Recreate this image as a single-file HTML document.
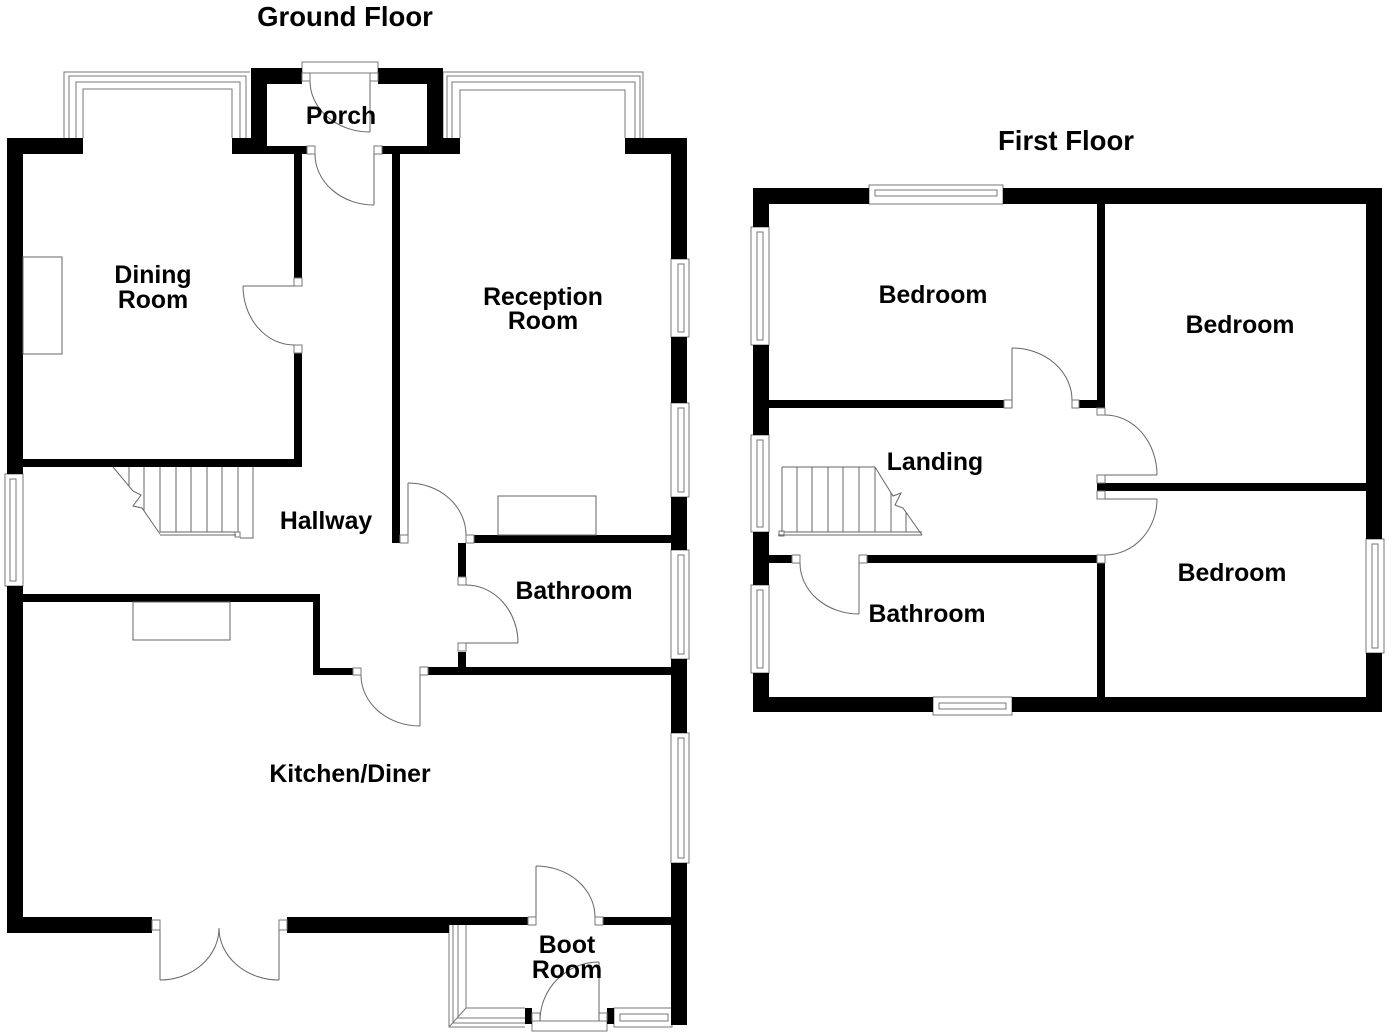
<!DOCTYPE html>
<html>
<head>
<meta charset="utf-8">
<style>
  html,body{margin:0;padding:0;background:#fff;}
  svg{display:block;}
  text{font-family:"Liberation Sans",Arial,sans-serif;font-weight:bold;fill:#000;}
</style>
</head>
<body>
<svg width="1392" height="1032" viewBox="0 0 1392 1032" xmlns="http://www.w3.org/2000/svg">
<rect width="1392" height="1032" fill="#fff"/>

<!-- ============ GROUND FLOOR ============ -->
<g fill="#fff" stroke="#777" stroke-width="1">
  <rect x="5" y="474" width="18" height="112"/>
  <rect x="10" y="479" width="6" height="102"/>
  <rect x="671" y="259" width="18" height="78"/>
  <rect x="678" y="264" width="6" height="68"/>
  <rect x="671" y="403" width="18" height="94"/>
  <rect x="678" y="408" width="6" height="84"/>
  <rect x="671" y="550" width="18" height="109"/>
  <rect x="678" y="555" width="6" height="99"/>
  <rect x="671" y="733" width="18" height="130"/>
  <rect x="678" y="738" width="6" height="120"/>
  <rect x="614" y="1008" width="58" height="19"/>
  <rect x="620" y="1014" width="48" height="7"/>
  <rect x="302" y="62" width="76" height="11"/>
  <rect x="532" y="1021" width="75" height="10"/>
</g>

<g fill="none" stroke="#777" stroke-width="1">
  <path d="M64,138 V72 H250"/>
  <path d="M69,138 V76 H246 V138"/>
  <path d="M76,138 V82 H240 V138"/>
  <path d="M83,138 V89 H232 V138"/>
  <path d="M443,138 V72 H643 V138"/>
  <path d="M447,138 V76 H640 V138"/>
  <path d="M452,138 V82 H635 V138"/>
  <path d="M460,138 V90 H625 V138"/>
  <path d="M449,925 V1027 H525"/>
  <path d="M453,925 V1023 H525"/>
  <path d="M458,925 V1018 H525"/>
  <path d="M466,925 V1008 H525"/>
  <path d="M449,1027 L466,1008"/>
</g>

<g fill="#000">
  <rect x="7" y="138" width="16" height="336"/>
  <rect x="7" y="586" width="16" height="347"/>
  <rect x="7" y="138" width="76" height="16"/>
  <rect x="232" y="138" width="19" height="16"/>
  <rect x="251" y="68" width="16" height="86"/>
  <rect x="251" y="68" width="51" height="16"/>
  <rect x="378" y="68" width="65" height="16"/>
  <rect x="427" y="68" width="16" height="86"/>
  <rect x="427" y="138" width="33" height="16"/>
  <rect x="267" y="146" width="40" height="8"/>
  <rect x="382" y="146" width="45" height="8"/>
  <rect x="294" y="154" width="8" height="124"/>
  <rect x="294" y="353" width="8" height="114"/>
  <rect x="23" y="459" width="279" height="8"/>
  <rect x="392" y="154" width="8" height="389"/>
  <rect x="474" y="535" width="213" height="8"/>
  <rect x="625" y="138" width="62" height="16"/>
  <rect x="671" y="138" width="16" height="121"/>
  <rect x="671" y="337" width="16" height="66"/>
  <rect x="671" y="497" width="16" height="53"/>
  <rect x="671" y="659" width="16" height="74"/>
  <rect x="671" y="863" width="16" height="162"/>
  <rect x="458" y="543" width="8" height="34"/>
  <rect x="458" y="652" width="8" height="23"/>
  <rect x="428" y="667" width="259" height="8"/>
  <rect x="23" y="594" width="297" height="8"/>
  <rect x="313" y="594" width="7" height="81"/>
  <rect x="313" y="668" width="40" height="7"/>
  <rect x="7" y="917" width="145" height="16"/>
  <rect x="287" y="917" width="162" height="16"/>
  <rect x="449" y="917" width="79" height="8"/>
  <rect x="603" y="917" width="69" height="8"/>
  <rect x="525" y="1008" width="7" height="16"/>
  <rect x="607" y="1008" width="7" height="16"/>
</g>

<g fill="#fff" stroke="#777" stroke-width="1">
  <rect x="302" y="73" width="8" height="8"/>
  <rect x="370" y="73" width="8" height="8"/>
  <rect x="307" y="146" width="8" height="8"/>
  <rect x="374" y="146" width="8" height="8"/>
  <rect x="294" y="278" width="8" height="8"/>
  <rect x="294" y="345" width="8" height="8"/>
  <rect x="400" y="535" width="8" height="8"/>
  <rect x="466" y="535" width="8" height="8"/>
  <rect x="458" y="577" width="8" height="8"/>
  <rect x="458" y="643" width="8" height="8"/>
  <rect x="420" y="667" width="8" height="8"/>
  <rect x="353" y="668" width="8" height="7"/>
  <rect x="152" y="920" width="8" height="10"/>
  <rect x="279" y="920" width="8" height="10"/>
  <rect x="528" y="917" width="8" height="8"/>
  <rect x="595" y="917" width="8" height="8"/>
  <rect x="532" y="1013" width="8" height="8"/>
  <rect x="599" y="1013" width="8" height="8"/>
  <rect x="235" y="532" width="5" height="5"/>
</g>

<g fill="none" stroke="#666" stroke-width="1">
  <path d="M370,81 V132"/>
  <path d="M310,81 A60,51 0 0 0 370,132"/>
  <path d="M374,154 V205"/>
  <path d="M315,154 A59,51 0 0 0 374,205"/>
  <path d="M243,286 H294"/>
  <path d="M243,286 A51,59 0 0 0 294,345"/>
  <path d="M408,483 V535"/>
  <path d="M408,483 A58,52 0 0 1 466,535"/>
  <path d="M466,643 H518"/>
  <path d="M466,585 A52,58 0 0 1 518,643"/>
  <path d="M420,675 V726"/>
  <path d="M361,675 A59,51 0 0 0 420,726"/>
  <path d="M160,930 V980"/>
  <path d="M160,980 A59,52 0 0 0 219,928"/>
  <path d="M279,930 V980"/>
  <path d="M279,980 A60,52 0 0 1 219,928"/>
  <path d="M536,917 V866"/>
  <path d="M536,866 A59,51 0 0 1 595,917"/>
  <path d="M599,1021 V962"/>
  <path d="M540,1021 A59,59 0 0 1 599,962"/>

  <rect x="23" y="257" width="39" height="97"/>
  <rect x="498" y="496" width="98" height="39"/>
  <rect x="133" y="602" width="97" height="38"/>

  <path d="M113,467 L133,491 L141,495 L133,506 L142,508 L160,534"/>
  <path d="M129,467 V486"/>
  <path d="M144,467 V511"/>
  <path d="M160,467 V532"/>
  <path d="M176,467 V532"/>
  <path d="M191,467 V532"/>
  <path d="M207,467 V532"/>
  <path d="M222,467 V532"/>
  <path d="M238,467 V532"/>
  <path d="M253,467 V538 H240"/>
  <path d="M160,532 H236"/>
  <path d="M160,535 H236"/>
</g>

<!-- ============ FIRST FLOOR ============ -->
<g fill="#fff" stroke="#777" stroke-width="1">
  <rect x="869" y="185" width="134" height="19"/>
  <rect x="875" y="190" width="122" height="6"/>
  <rect x="751" y="227" width="18" height="118"/>
  <rect x="757" y="232" width="6" height="108"/>
  <rect x="751" y="435" width="18" height="97"/>
  <rect x="757" y="440" width="6" height="87"/>
  <rect x="751" y="585" width="18" height="88"/>
  <rect x="757" y="590" width="6" height="78"/>
  <rect x="1366" y="539" width="18" height="114"/>
  <rect x="1372" y="544" width="6" height="104"/>
  <rect x="933" y="697" width="79" height="18"/>
  <rect x="939" y="703" width="67" height="6"/>
</g>

<g fill="#000">
  <rect x="753" y="188" width="116" height="16"/>
  <rect x="1003" y="188" width="379" height="16"/>
  <rect x="753" y="188" width="16" height="39"/>
  <rect x="753" y="345" width="16" height="90"/>
  <rect x="753" y="532" width="16" height="53"/>
  <rect x="753" y="673" width="16" height="39"/>
  <rect x="753" y="697" width="180" height="15"/>
  <rect x="1012" y="697" width="370" height="15"/>
  <rect x="1366" y="188" width="16" height="351"/>
  <rect x="1366" y="653" width="16" height="59"/>
  <rect x="769" y="400" width="235" height="8"/>
  <rect x="1079" y="400" width="26" height="8"/>
  <rect x="1097" y="204" width="8" height="204"/>
  <rect x="1097" y="483" width="269" height="8"/>
  <rect x="1097" y="563" width="8" height="134"/>
  <rect x="769" y="555" width="23" height="8"/>
  <rect x="867" y="555" width="230" height="8"/>
</g>

<g fill="#fff" stroke="#777" stroke-width="1">
  <rect x="1004" y="400" width="8" height="8"/>
  <rect x="1072" y="400" width="7" height="8"/>
  <rect x="1097" y="408" width="8" height="7"/>
  <rect x="1097" y="475" width="8" height="8"/>
  <rect x="1097" y="491" width="8" height="8"/>
  <rect x="1097" y="555" width="8" height="8"/>
  <rect x="792" y="555" width="8" height="8"/>
  <rect x="859" y="555" width="8" height="8"/>
  <rect x="779" y="531" width="5" height="5"/>
</g>

<g fill="none" stroke="#666" stroke-width="1">
  <path d="M1012,408 V348"/>
  <path d="M1012,348 A60,52 0 0 1 1072,400"/>
  <path d="M1105,475 H1157"/>
  <path d="M1105,415 A52,60 0 0 1 1157,475"/>
  <path d="M1105,499 H1157"/>
  <path d="M1157,499 A52,56 0 0 1 1105,555"/>
  <path d="M859,563 V614"/>
  <path d="M800,563 A59,51 0 0 0 859,614"/>

  <path d="M782,467 H875"/>
  <path d="M782,467 V532"/>
  <path d="M797,467 V532"/>
  <path d="M812,467 V532"/>
  <path d="M828,467 V532"/>
  <path d="M843,467 V532"/>
  <path d="M859,467 V532"/>
  <path d="M875,467 V532"/>
  <path d="M875,467 L893,496 L901,493 L895,505 L903,508 L922,535"/>
  <path d="M891,493 V532"/>
  <path d="M906,512 V532"/>
  <path d="M784,532 H922"/>
  <path d="M778,535 H922"/>
</g>

<!-- ============ LABELS ============ -->
<g text-anchor="middle">
  <text x="345" y="26" font-size="27.5">Ground Floor</text>
  <text x="1066" y="150" font-size="27.5">First Floor</text>

  <text x="341" y="124" font-size="24.8">Porch</text>
  <text x="153" y="283" font-size="24.8">Dining</text>
  <text x="153" y="308" font-size="24.8">Room</text>
  <text x="543" y="305" font-size="24.8">Reception</text>
  <text x="543" y="329" font-size="24.8">Room</text>
  <text x="326" y="529" font-size="24.8">Hallway</text>
  <text x="574" y="599" font-size="24.8">Bathroom</text>
  <text x="350" y="782" font-size="24.8">Kitchen/Diner</text>
  <text x="567" y="953" font-size="24.8">Boot</text>
  <text x="567" y="978" font-size="24.8">Room</text>

  <text x="933" y="303" font-size="24.8">Bedroom</text>
  <text x="1240" y="333" font-size="24.8">Bedroom</text>
  <text x="935" y="470" font-size="24.8">Landing</text>
  <text x="1232" y="581" font-size="24.8">Bedroom</text>
  <text x="927" y="622" font-size="24.8">Bathroom</text>
</g>
</svg>
</body>
</html>
